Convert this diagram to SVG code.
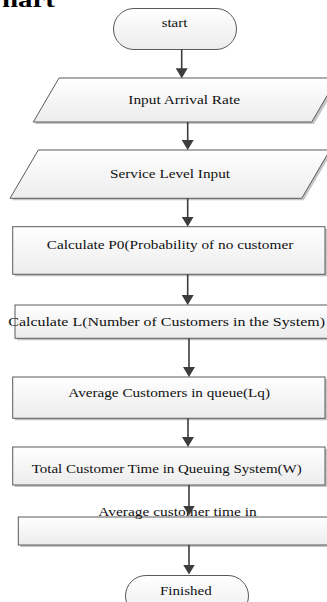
<svg xmlns="http://www.w3.org/2000/svg" width="327" height="602" viewBox="0 0 327 602">
  <defs>
    <linearGradient id="fillg" x1="0" y1="0" x2="0" y2="1">
      <stop offset="0" stop-color="#ffffff"/>
      <stop offset="1" stop-color="#ececec"/>
    </linearGradient>
    <marker id="arrow" viewBox="0 0 10 12" refX="7" refY="6" markerWidth="10" markerHeight="12" markerUnits="userSpaceOnUse" orient="auto">
      <path d="M0,0 L10,6 L0,12 z" fill="#3c3c3c"/>
    </marker>
  </defs>
  <style>
    .shape { fill: url(#fillg); stroke: #5a5a5a; stroke-width: 1; }
    .shadow { fill: #c4c4c4; stroke: none; }
    .lbl { font-family: "Liberation Serif", "Times New Roman", serif; font-size: 12px; fill: #111; }
    .conn line { stroke: #3c3c3c; stroke-width: 1.6; marker-end: url(#arrow); }
    .title { font-family: "Liberation Serif", "Times New Roman", serif; font-size: 22px; font-weight: bold; fill: #000; }
  </style>
  <rect width="327" height="602" fill="#ffffff"/>

  <text class="title" x="2" y="7" textLength="53" lengthAdjust="spacingAndGlyphs">hart</text>

  <g id="start">
    <rect class="shape" x="113.5" y="8.5" width="123" height="41" rx="20.5" ry="20.5"/>
    <text class="lbl" x="161.7" y="27" textLength="25.6" lengthAdjust="spacingAndGlyphs">start</text>
  </g>

  <g id="input-arrival">
    <polygon class="shadow" points="61,80 340,80 314,124 35,124"/>
    <polygon class="shape" points="59,78 337.5,78 311.7,122 33.3,122"/>
    <text class="lbl" x="128.3" y="104" textLength="111.7" lengthAdjust="spacingAndGlyphs">Input Arrival Rate</text>
  </g>

  <g id="service-level">
    <polygon class="shadow" points="40.3,152 332,152 303.7,200.3 12,200.3"/>
    <polygon class="shape" points="38.3,150 330,150 301.7,198.3 10,198.3"/>
    <text class="lbl" x="110" y="178.3" textLength="120" lengthAdjust="spacingAndGlyphs">Service Level Input</text>
  </g>

  <g id="calc-p0">
    <rect class="shadow" x="14.7" y="228.7" width="312.3" height="47.6"/>
    <rect class="shape" x="12.7" y="226.7" width="312.3" height="47.6"/>
    <text class="lbl" x="46.7" y="249" textLength="246.6" lengthAdjust="spacingAndGlyphs">Calculate P0(Probability of no customer</text>
  </g>

  <g id="calc-l">
    <rect class="shadow" x="17" y="307" width="320" height="33.3"/>
    <rect class="shape" x="15" y="305" width="320" height="33.3"/>
    <text class="lbl" x="8.3" y="325.5" textLength="316.7" lengthAdjust="spacingAndGlyphs">Calculate L(Number of Customers in the System)</text>
  </g>

  <g id="calc-lq">
    <rect class="shadow" x="14.7" y="379" width="312.3" height="41.3"/>
    <rect class="shape" x="12.7" y="377" width="312.3" height="41.3"/>
    <text class="lbl" x="68.3" y="396.7" textLength="201.7" lengthAdjust="spacingAndGlyphs">Average Customers in queue(Lq)</text>
  </g>

  <g id="calc-w">
    <rect class="shadow" x="14.7" y="449" width="312.3" height="38"/>
    <rect class="shape" x="12.7" y="447" width="312.3" height="38"/>
    <text class="lbl" x="31.7" y="473" textLength="270" lengthAdjust="spacingAndGlyphs">Total Customer Time in Queuing System(W)</text>
  </g>

  <g id="avg-time">
    <rect class="shadow" x="20.3" y="519" width="320" height="28"/>
    <rect class="shape" x="18.3" y="517" width="320" height="28"/>
    <text class="lbl" x="98.3" y="515.7" textLength="158.4" lengthAdjust="spacingAndGlyphs">Average customer time in</text>
  </g>

  <g id="finished">
    <rect class="shape" x="125.5" y="575.5" width="123" height="41" rx="20.5" ry="20.5"/>
    <text class="lbl" x="160" y="595" textLength="51.7" lengthAdjust="spacingAndGlyphs">Finished</text>
  </g>

  <g id="connectors" class="conn">
    <line x1="181.7" y1="49.5" x2="181.7" y2="75.3"/>
    <line x1="187.7" y1="122" x2="187.7" y2="147"/>
    <line x1="187.7" y1="198.3" x2="187.7" y2="223.7"/>
    <line x1="187.7" y1="274.3" x2="187.7" y2="302"/>
    <line x1="189" y1="338.3" x2="189" y2="374"/>
    <line x1="188" y1="418.3" x2="188" y2="444"/>
    <line x1="189" y1="485" x2="189" y2="512.5"/>
    <line x1="189" y1="545" x2="189" y2="571.5"/>
  </g>
</svg>
